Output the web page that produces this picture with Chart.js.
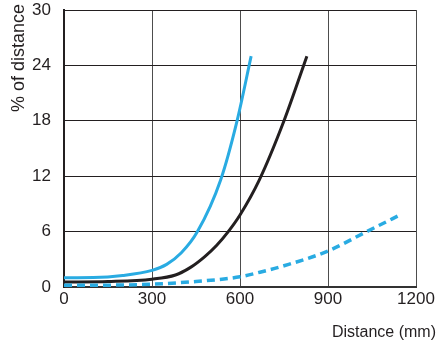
<!DOCTYPE html>
<html lang="en">
<head>
<meta charset="UTF-8">
<title>% of distance vs Distance</title>
<script src="https://cdn.jsdelivr.net/npm/chart.js"></script>
<style>
  html, body { margin: 0; padding: 0; background: #fff; }
  #wrap { width: 436px; height: 342px; }
</style>
</head>
<body>
<div id="wrap"><canvas id="distChart" width="436" height="342"></canvas></div>
<script>
// values
const cyanX   = [0, 100, 200, 300, 350, 400, 455, 534, 590, 638];
const cyanY   = [1.0, 1.02, 1.25, 1.8, 2.45, 3.7, 6, 11.6, 18, 25];
const blackX  = [0, 150, 300, 380, 430, 480, 520, 560, 600, 666, 750, 828];
const blackY  = [0.54, 0.6, 0.85, 1.3, 2.1, 3.3, 4.5, 6, 7.8, 11.6, 18, 25];
const dashX   = [0, 150, 300, 450, 600, 668, 750, 900, 1032, 1145];
const dashY   = [0.2, 0.2, 0.3, 0.6, 1.1, 1.6, 2.3, 3.9, 6, 7.8];
const xTicks  = [0, 300, 600, 900, 1200];
const yTicks  = [0, 6, 12, 18, 24, 30];

const toPts = (xs, ys) => xs.map((x, i) => ({ x: x, y: ys[i] }));
const FONT = '"Liberation Sans", Arial, sans-serif';

// axis titles drawn by hand so they can sit where the reference has them
const axisTitles = {
    id: 'axisTitles',
    afterDraw(chart) {
        const ctx = chart.ctx;
        ctx.save();
        ctx.fillStyle = '#231f20';
        ctx.font = '16px ' + FONT;
        ctx.textAlign = 'right';
        ctx.textBaseline = 'alphabetic';
        ctx.fillText('Distance (mm)', 436, 337);

        ctx.translate(24, 112);
        ctx.rotate(-Math.PI / 2);
        ctx.font = '18px ' + FONT;
        ctx.textAlign = 'left';
        ctx.fillText('% of distance', 0, 0);
        ctx.restore();
    }
};

const ctx = document.getElementById('distChart').getContext('2d');
new Chart(ctx, {
    type: 'line',
    data: {
        datasets: [
            {
                data: toPts(dashX, dashY),
                borderColor: '#29abe2',
                borderWidth: 3.5,
                borderDash: [8, 5],
                pointRadius: 0,
                cubicInterpolationMode: 'monotone',
                fill: false
            },
            {
                data: toPts(blackX, blackY),
                borderColor: '#231f20',
                borderWidth: 3,
                pointRadius: 0,
                cubicInterpolationMode: 'monotone',
                fill: false
            },
            {
                data: toPts(cyanX, cyanY),
                borderColor: '#29abe2',
                borderWidth: 3,
                pointRadius: 0,
                cubicInterpolationMode: 'monotone',
                fill: false
            }
        ]
    },
    options: {
        responsive: false,
        animation: false,
        layout: { padding: { top: 10, right: 0, left: 0, bottom: 0 } },
        plugins: {
            legend: { display: false },
            tooltip: { enabled: false }
        },
        scales: {
            x: {
                type: 'linear',
                min: 0,
                max: 1200,
                afterFit(scale) { scale.height = 55; scale.paddingRight = 20; },
                afterBuildTicks(scale) { scale.ticks = xTicks.map(v => ({ value: v })); },
                ticks: {
                    color: '#231f20',
                    font: { family: FONT, size: 17 },
                    padding: 2,
                    maxRotation: 0,
                    callback: v => String(v)
                },
                grid: { color: '#4d4d4d', lineWidth: 1, drawTicks: false },
                border: { color: '#333', width: 2 }
            },
            y: {
                min: 0,
                max: 30,
                afterFit(scale) { scale.width = 64; scale.paddingTop = 0; scale.paddingBottom = 0; },
                afterBuildTicks(scale) { scale.ticks = yTicks.map(v => ({ value: v })); },
                ticks: {
                    color: '#231f20',
                    font: { family: FONT, size: 17 },
                    padding: 13,
                    callback: v => String(v)
                },
                grid: { color: '#231f20', lineWidth: 1, drawTicks: false },
                border: { color: '#231f20', width: 2 }
            }
        }
    },
    plugins: [axisTitles]
});
</script>
</body>
</html>
